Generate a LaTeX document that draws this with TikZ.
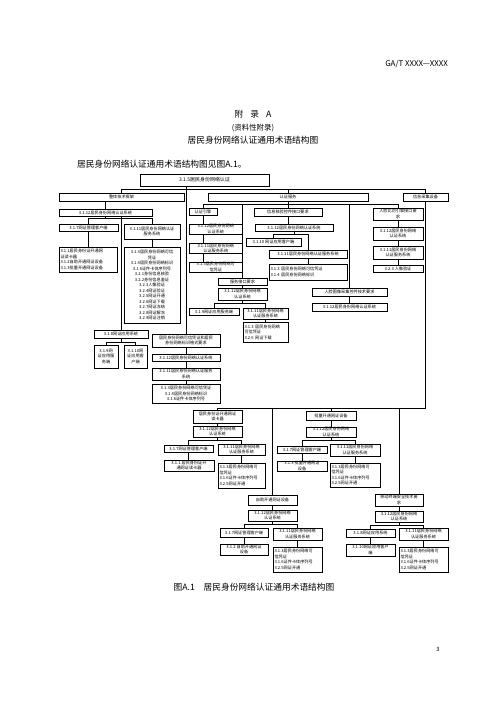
\documentclass[tikz,border=0pt]{standalone}
\usepackage{fontspec}
\setmainfont{Noto Sans CJK SC}
\newdimen\pxu
\pxu=1.2bp
\newcommand{\boxfont}{\fontsize{5}{6.6}\selectfont}
\tikzset{sz/.style 2 args={minimum width=#1\pxu,minimum height=#2\pxu},
  lft/.style={align=left,text width=#1\pxu}}
\begin{document}
\begin{tikzpicture}[x=\pxu,y=-\pxu]
    \tikzstyle{box}=[draw,line width=1.1pt,inner sep=0.4pt,font=\boxfont,align=center]
    \tikzstyle{txt}=[inner sep=0pt]
    \useasboundingbox (0,0) rectangle (496,702);
    % page texts
    \node[txt,anchor=east,font=\fontsize{9.5}{11}\selectfont] (hd) at (448,64) {GA/T XXXX—XXXX};
    \node[txt,font=\fontsize{10.5}{12}\selectfont] (fl) at (253,114) {附\hspace{0.8em}录\hspace{0.8em}A};
    \node[txt,font=\fontsize{9}{11}\selectfont] (zl) at (253,128) {(资料性附录)};
    \node[txt,font=\fontsize{10.5}{12}\selectfont] (tt) at (253,140) {居民身份网络认证通用术语结构图};
    \node[txt,anchor=west,font=\fontsize{10.5}{12}\selectfont] (ms) at (77,164) {居民身份网络认证通用术语结构图见图A.1。};
    \node[txt,font=\fontsize{10.5}{12}\selectfont] (cap) at (254,587) {图A.1\hspace{1em}居民身份网络认证通用术语结构图};
    \node[txt,font=\fontsize{7}{8}\selectfont] (pg) at (438,649) {3};
    % top levels
    \node[box,sz={129}{12},font=\fontsize{6}{7}\selectfont] (root) at (204.5,180) {3.1.5居民身份网络认证};
    \node[box,sz={125}{8}] (zt) at (121.5,197) {整体技术框架};
    \node[box,sz={160}{8}] (rz) at (288,197) {认证服务};
    \node[box,sz={45}{8}] (xx) at (425.5,197) {信息采集设备};
    % overall framework
    \node[box,sz={93}{7}] (zt12) at (105.5,212.5) {3.1.12居民身份网络认证系统};
    \node[box,sz={59}{7}] (zt7) at (88.5,227.5) {3.1.7网证管理客户端};
    \node[box,sz={56}{15}] (zt11) at (152,231.5) {3.1.11居民身份网络认证\\服务系统};
    \node[box,sz={58}{25},lft=55] (zt1) at (88,259.5) {3.1.1居民身份证开通网\\证读卡器\\3.1.2自助开通网证设备\\3.1.3批量开通网证设备};
    \node[box,sz={56}{76}] (zt3) at (152,285) {3.1.3居民身份网络可信\\凭证\\3.1.4居民身份网络标识\\3.1.6证件卡体序列号\\3.2.1身份信息核验\\3.2.2身份信息鉴证\\3.2.3人像验证\\3.2.4网证验证\\3.2.5网证开通\\3.2.6网证下载\\3.2.7网证冻结\\3.2.8网证解冻\\3.2.9网证注销};
    \node[box,sz={54}{8}] (zt8) at (121,334) {3.1.8网证应用系统};
    \node[box,sz={24}{23}] (zt9) at (106,356.5) {3.1.9网\\证应用服\\务端};
    \node[box,sz={23}{23}] (zt10) at (135.5,356.5) {3.1.10网\\证应用客\\户端};
    % format requirements
    \node[box,sz={68}{13}] (gs) at (186,340.5) {居民身份网络可信凭证和居民\\身份网络标识格式要求};
    \node[box,sz={68}{7}] (gs12) at (186,357.5) {3.1.12居民身份网络认证系统};
    \node[box,sz={68}{12}] (gs11) at (186,374) {3.1.11居民身份网络认证服务\\系统};
    \node[box,sz={68}{19}] (gs3) at (186,393.5) {3.1.3居民身份网络可信凭证\\3.1.4居民身份网络标识\\3.1.6证件卡体序列号};
    % authentication service
    \node[box,sz={28}{7}] (yq) at (203,211.5) {认证引擎};
    \node[box,sz={53.5}{10}] (yq12) at (215.75,229) {3.1.12居民身份网络\\认证系统};
    \node[box,sz={53.5}{10}] (yq11) at (215.75,248.5) {3.1.11居民身份网络\\认证服务系统};
    \node[box,sz={53.5}{10}] (yq3) at (215.75,267) {3.1.3居民身份网络可\\信凭证};
    \node[box,sz={49}{7}] (fw) at (242.5,281.5) {服务接口要求};
    \node[box,sz={49}{12}] (fw12) at (242.5,294) {3.1.12居民身份网络\\认证系统};
    \node[box,sz={50}{7}] (fw9) at (214,311.5) {3.1.9网证应用服务端};
    \node[box,sz={45}{11}] (fw11) at (265.5,313.5) {3.1.11居民身份网络\\认证服务系统};
    \node[box,sz={45}{20},lft=42] (fw3) at (265.5,332) {3.1.3 居民身份网络\\可信凭证\\3.2.6 网证下载};
    \node[box,sz={68}{8}] (xk) at (288,212) {信息核验控件接口要求};
    \node[box,sz={78}{7}] (xk12) at (294,227.5) {3.1.12居民身份网络认证系统};
    \node[box,sz={55}{8}] (xk10) at (273.5,242) {3.1.10 网证应用客户端};
    \node[box,sz={78}{8}] (xk11) at (308,254) {3.1.11居民身份网络认证服务系统};
    \node[box,sz={78}{16},lft=75] (xk3) at (308,272) {3.1.3 居民身份网络可信凭证\\3.1.4 居民身份网络标识};
    \node[box,sz={75}{8}] (rx) at (349.5,292) {人脸图像采集控件技术要求};
    \node[box,sz={75}{8}] (rx12) at (349.5,307) {3.1.12居民身份网络认证系统};
    \node[box,sz={50}{12}] (rl) at (398,214) {人脸比对引擎接口要\\求};
    \node[box,sz={50}{13}] (rl12) at (398,233.5) {3.1.12居民身份网络\\认证系统};
    \node[box,sz={50}{13}] (rl11) at (398,252.5) {3.1.11居民身份网络\\认证服务系统};
    \node[box,sz={50}{7}] (rl3) at (398,268.5) {3.2.3 人像验证};
    % information collection devices
    \node[box,sz={49}{13}] (dk) at (217.5,416.5) {居民身份证开通网证\\读卡器};
    \node[box,sz={49}{11}] (dk12) at (217.5,431.5) {3.1.12居民身份网络\\认证系统};
    \node[box,sz={49}{7}] (dk7) at (188.5,449) {3.1.7网证管理客户端};
    \node[box,sz={47}{11}] (dk11) at (241.5,449.5) {3.1.11居民身份网络\\认证服务系统};
    \node[box,sz={50}{11}] (dk1) at (189,465.5) {3.1.1 居民身份证开\\通网证读卡器};
    \node[box,sz={47}{25},lft=44] (dk3) at (241.5,475.5) {3.1.3居民身份网络可\\信凭证\\3.1.6证件卡体序列号\\3.2.5网证开通};
    \node[box,sz={50}{9}] (bl) at (331,415.5) {批量开通网证设备};
    \node[box,sz={50}{10}] (bl12) at (331,432) {3.1.12居民身份网络\\认证系统};
    \node[box,sz={50}{7}] (bl7) at (302,449.5) {3.1.7网证管理客户端};
    \node[box,sz={50}{12}] (bl11) at (355,450) {3.1.11居民身份网络\\认证服务系统};
    \node[box,sz={50}{10}] (bl1) at (302,466) {3.1.3 批量开通网证\\设备};
    \node[box,sz={50}{24},lft=47] (bl3) at (355,475) {3.1.3居民身份网络可\\信凭证\\3.1.6证件卡体序列号\\3.2.5网证开通};
    \node[box,sz={49}{10}] (zz) at (272.5,500) {自助开通网证设备};
    \node[box,sz={49}{11}] (zz12) at (272.5,515.5) {3.1.12居民身份网络\\认证系统};
    \node[box,sz={48}{9}] (zz7) at (244,532.5) {3.1.7网证管理客户端};
    \node[box,sz={49}{12}] (zz11) at (297.5,534) {3.1.11居民身份网络\\认证服务系统};
    \node[box,sz={48}{11}] (zz2) at (244,549.5) {3.1.2 自助开通网证\\设备};
    \node[box,sz={49}{25},lft=46] (zz3) at (297.5,559.5) {3.1.3居民身份网络可\\信凭证\\3.1.6证件卡体序列号\\3.2.5网证开通};
    \node[box,sz={48}{12}] (yd) at (399,500) {移动终端安全技术要\\求};
    \node[box,sz={48}{11}] (yd12) at (399,516.5) {3.1.12居民身份网络\\认证系统};
    \node[box,sz={49}{8}] (yd8) at (370.5,533) {3.1.8网证应用系统};
    \node[box,sz={49}{12}] (yd11) at (423.5,534) {3.1.11居民身份网络\\认证服务系统};
    \node[box,sz={49}{12}] (yd10) at (370.5,550) {3.1.10网证应用客户\\端};
    \node[box,sz={49}{25},lft=46] (yd3) at (423.5,559.5) {3.1.3居民身份网络可\\信凭证\\3.1.6证件卡体序列号\\3.2.5网证开通};
    % bus levels
    \coordinate (b0) at (0,189);
    \coordinate (b1) at (0,204);
    \coordinate (bzt) at (0,218);
    \coordinate (bzt8) at (0,342);
    \coordinate (bxk) at (0,234);
    \coordinate (bfw) at (0,303);
    \coordinate (b3) at (0,408);
    \coordinate (bdk) at (0,440);
    \coordinate (bzz) at (0,524);
    \coordinate (byd) at (0,525);
    \draw[line width=1.1pt] (root.south -| gs) -- (gs)
    (zt.north) |- (b0 -| xx) -- (xx.north)
    (rz.north) -- (rz.north |- b0)
    (zt.south -| zt12) -- (zt12)
    (zt12) -- (zt12 |- bzt)
    (zt7.north) |- (bzt -| zt11) -- (zt11.north)
    (zt7.south) -- (zt7.south |- zt1.north)
    (zt11) -- (zt3)
    (zt12.south -| zt8) -- (zt8)
    (zt8) -- (zt8 |- bzt8)
    (zt9.north) |- (bzt8 -| zt10) -- (zt10.north)
    (gs) -- (gs12)
    (gs12) -- (gs11)
    (gs11) -- (gs3);
    \draw[line width=1.1pt] (yq.north) |- (b1 -| rl) -- (rl.north)
    (rz.south) -- (rz.south |- b1)
    (xk.north) -- (xk.north |- b1)
    (fw.north) -- (fw.north |- b1)
    (rx.north) -- (rx.north |- b1)
    (yq.south) -- (yq.south |- yq12.north)
    (yq12.south -| yq) -- (yq11.north -| yq)
    (yq11.south -| yq) -- (yq3.north -| yq)
    (fw) -- (fw12)
    (fw12) -- (fw12 |- bfw)
    (fw9.north) |- (bfw -| fw11) -- (fw11.north)
    (fw11) -- (fw3)
    (xk.south) -- (xk.south |- xk12.north)
    (xk12) -- (xk12 |- bxk)
    (xk10.north) |- (bxk -| xk11) -- (xk11.north)
    (xk11) -- (xk3)
    (rx) -- (rx12)
    (rl) -- (rl12)
    (rl12) -- (rl11)
    (rl11) -- (rl3);
    \draw[line width=1.1pt] (xx) -- (xx |- b3)
    (dk.north) |- (b3 -| xx)
    (bl) -- (bl |- b3)
    (zz) -- (zz |- b3)
    (yd) -- (yd |- b3)
    (dk) -- (dk12)
    (dk12) -- (dk12 |- bdk)
    (dk7.north) |- (bdk -| dk11) -- (dk11.north)
    (dk7.south) -- (dk7.south |- dk1.north)
    (dk11) -- (dk3)
    (bl) -- (bl12)
    (bl12) -- (bl12 |- bdk)
    (bl7.north) |- (bdk -| bl11) -- (bl11.north)
    (bl7) -- (bl1)
    (bl11) -- (bl3)
    (zz) -- (zz12)
    (zz12) -- (zz12 |- bzz)
    (zz7.north) |- (bzz -| zz11) -- (zz11.north)
    (zz7) -- (zz2)
    (zz11) -- (zz3)
    (yd) -- (yd12)
    (yd12) -- (yd12 |- byd)
    (yd8.north) |- (byd -| yd11) -- (yd11.north)
    (yd8) -- (yd10)
    (yd11) -- (yd3);
\end{tikzpicture}
\end{document}
